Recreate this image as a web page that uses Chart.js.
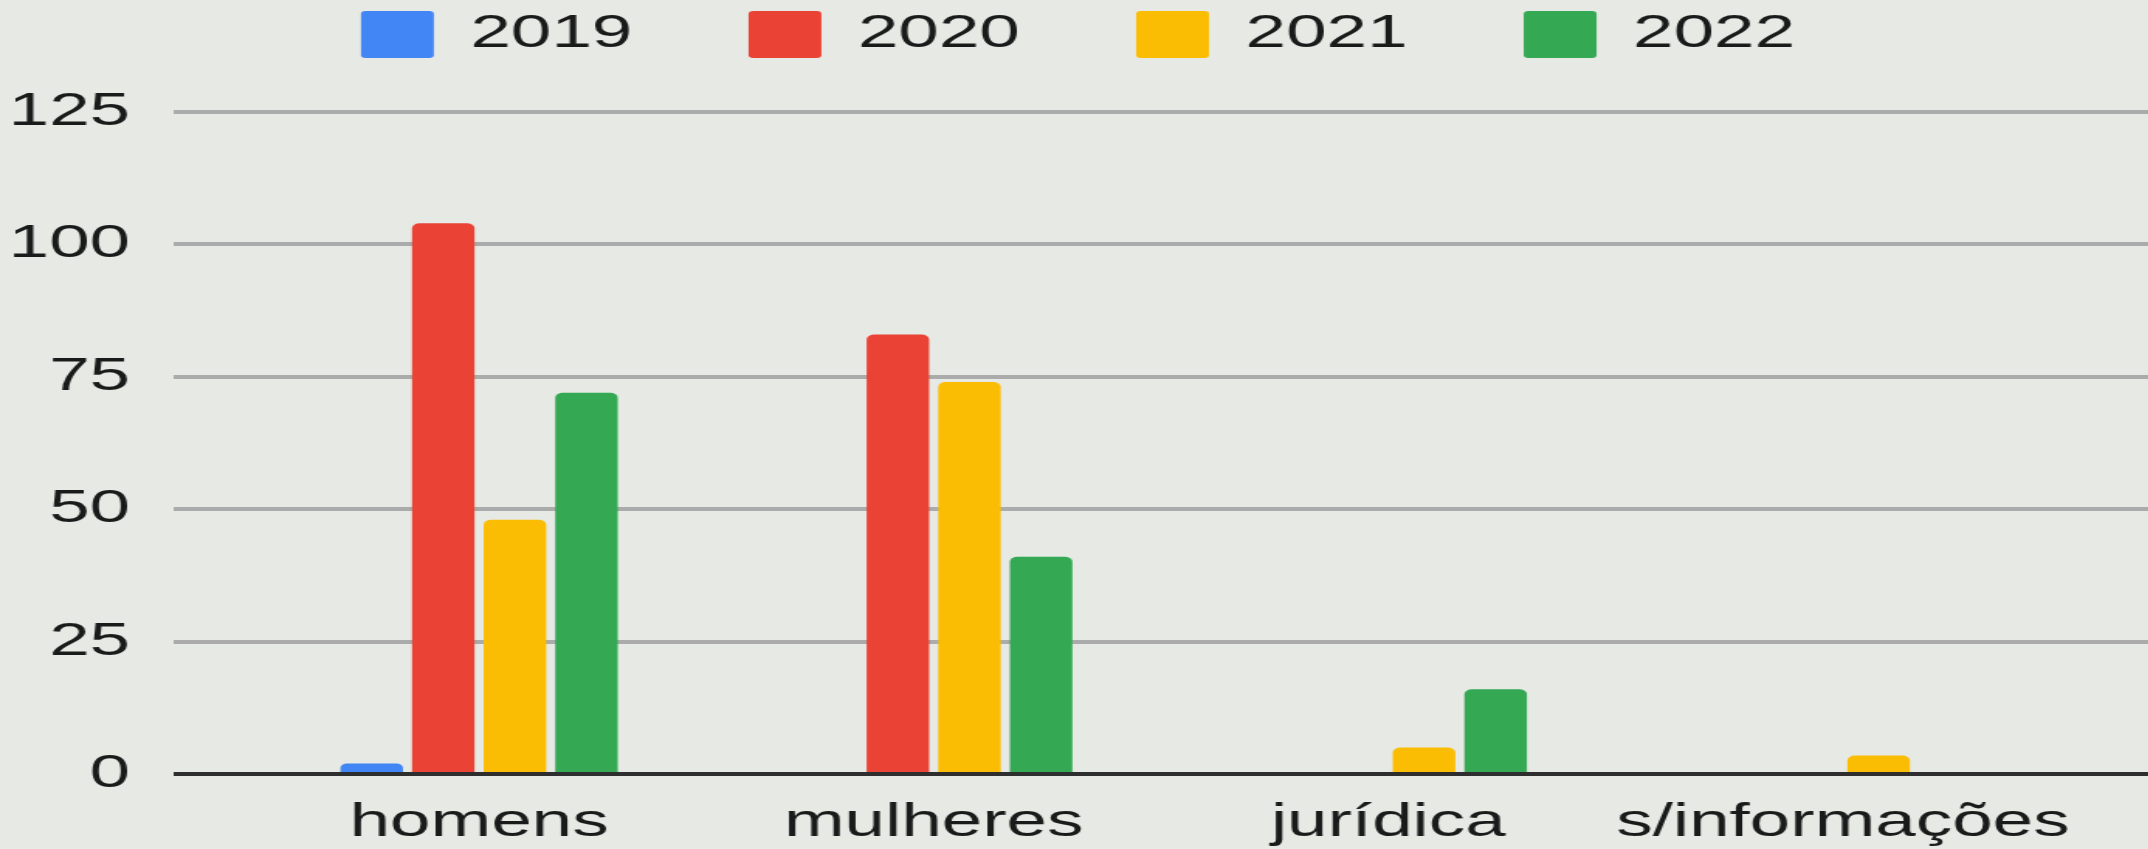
<!DOCTYPE html>
<html>
<head>
<meta charset="utf-8">
<script src="https://cdn.jsdelivr.net/npm/chart.js@4.4.1/dist/chart.umd.min.js"></script>
<style>
html, body { margin: 0; padding: 0; width: 2148px; height: 849px; overflow: hidden; background: #e6e9e4; }
#wrap { position: absolute; left: 0; top: 0; width: 1386px; height: 849px; transform: scaleX(1.55); transform-origin: 0 0; }
</style>
</head>
<body>
<div id="wrap"><canvas id="c"></canvas></div>
<script>
// ---- data ----
const categories = ['homens', 'mulheres', 'jurídica', 's/informações'];
const seriesLabels = ['2019', '2020', '2021', '2022'];
const values2019 = [2, 0, 0, 0];
const values2020 = [104, 83, 0, 0];
const values2021 = [48, 74, 5, 3.5];
const values2022 = [72, 41, 16, 0];
const yTickValues = [0, 25, 50, 75, 100, 125];

// ---- styles ----
const seriesColors = ['#4285F4', '#EA4335', '#FBBC04', '#34A853'];
const allValues = [values2019, values2020, values2021, values2022];

Chart.defaults.font.family = "'Liberation Sans', Arial, sans-serif";
Chart.defaults.color = '#1a1a1a';

const legendShift = {
  id: 'legendShift',
  afterLayout(chart) {
    const lg = chart.legend;
    if (lg) { lg.top = 11 - lg.options.labels.padding; }
  }
};

const datasets = seriesLabels.map((label, s) => ({
  label: label,
  data: allValues[s].map((v, i) => ({ x: i, y: v })),
  backgroundColor: seriesColors[s],
  borderWidth: 0,
  borderRadius: 5,
  borderSkipped: 'start',
  categoryPercentage: 0.63,
  barPercentage: 0.873
}));

new Chart(document.getElementById('c'), {
  type: 'bar',
  data: { datasets: datasets },
  plugins: [legendShift],
  options: {
    responsive: true,
    maintainAspectRatio: false,
    animation: false,
    layout: { padding: { left: 5, right: 0, top: 0, bottom: 0 } },
    plugins: {
      tooltip: { enabled: false },
      legend: {
        position: 'top',
        align: 'center',
        maxHeight: 112,
        labels: {
          font: { size: 47 },
          color: '#1a1a1a',
          boxWidth: 47,
          boxHeight: 47,
          padding: 75,
          useBorderRadius: true,
          borderRadius: 3
        }
      }
    },
    scales: {
      x: {
        type: 'linear',
        offset: false,
        min: -0.672,
        max: 3.672,
        afterBuildTicks: (axis) => { axis.ticks = categories.map((c, i) => ({ value: i })); },
        afterFit: (axis) => { axis.height = 75; axis.paddingLeft = 0; axis.paddingRight = 0; },
        grid: { display: false, drawTicks: false },
        border: { display: false },
        ticks: {
          autoSkip: false,
          maxRotation: 0,
          padding: 21,
          font: { size: 47 },
          color: '#1a1a1a',
          callback: (v) => categories[v] !== undefined ? categories[v] : ''
        }
      },
      y: {
        min: 0,
        max: 125,
        afterBuildTicks: (axis) => { axis.ticks = yTickValues.map(v => ({ value: v })); },
        afterFit: (axis) => { axis.width = 107; },
        grid: {
          drawTicks: false,
          color: (ctx) => ctx.tick && ctx.tick.value === 0 ? '#2e2e2e' : '#ababab',
          lineWidth: 4
        },
        border: { display: false },
        ticks: {
          padding: 28,
          font: { size: 47 },
          color: '#1a1a1a'
        }
      }
    }
  }
});
</script>
</body>
</html>
